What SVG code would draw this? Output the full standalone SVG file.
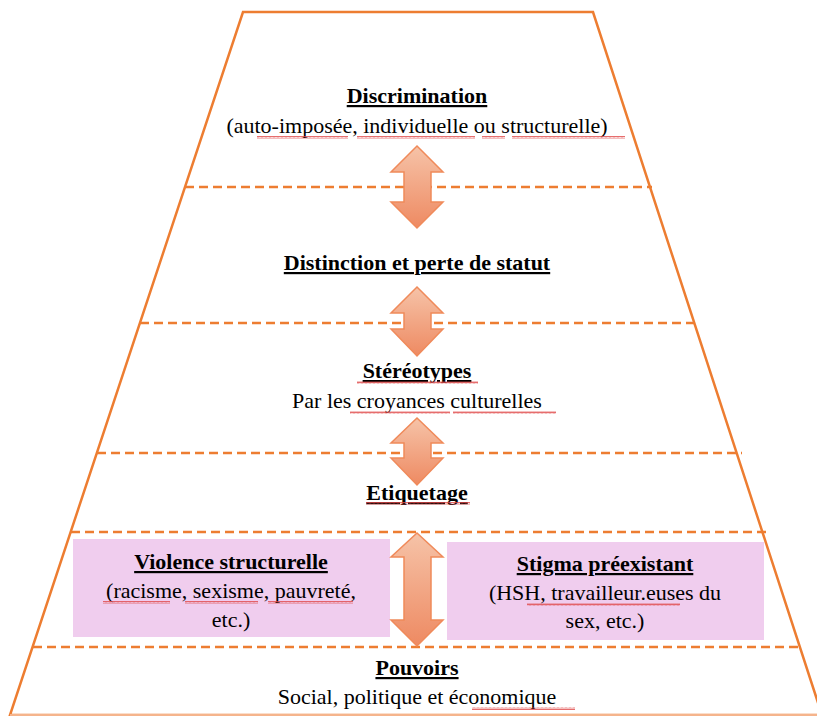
<svg xmlns="http://www.w3.org/2000/svg" width="817" height="716" viewBox="0 0 817 716">
<defs>
<linearGradient id="ag" x1="0" y1="0" x2="0" y2="1">
<stop offset="0" stop-color="#F6C3A8"/>
<stop offset="1" stop-color="#EE8A62"/>
</linearGradient>
<pattern id="wavy" width="4" height="3" patternUnits="userSpaceOnUse">
<path d="M0,2.5 L1,0.5 L2,2.5 L3,0.5 L4,2.5" fill="none" stroke="#E04848" stroke-width="0.8"/>
</pattern>
</defs>
<rect width="817" height="716" fill="#fff"/>
<g id="pyramid" fill="none" stroke="#ED7D31" stroke-width="2.5">
<polygon points="243,12 593,12 822,715 10,715"/>
<line x1="10" y1="715" x2="817" y2="715" stroke="#F5B48C" stroke-width="2"/>
</g>
<g id="levels" fill="none" stroke="#ED7D31" stroke-width="2.5" stroke-dasharray="9 5">
<line x1="185" y1="187" x2="652" y2="187"/>
<line x1="140" y1="323" x2="696" y2="323"/>
<line x1="97" y1="453" x2="742" y2="453"/>
<line x1="71" y1="532" x2="767" y2="532"/>
<line x1="33" y1="647" x2="802" y2="647"/>
</g>
<g id="node-violence">
<rect x="73" y="539" width="317" height="98" fill="#F0CDEE"/>
<text x="231" y="569" font-family="'Liberation Serif'" font-size="22" font-weight="bold" text-decoration="underline" text-anchor="middle">Violence structurelle</text>
<text x="231" y="598" font-family="'Liberation Serif'" font-size="22" text-anchor="middle">(racisme, sexisme, pauvreté,</text>
<text x="231" y="627" font-family="'Liberation Serif'" font-size="22" text-anchor="middle">etc.)</text>
<rect x="103" y="601" width="67" height="3" fill="url(#wavy)"/>
<rect x="185" y="601" width="73" height="3" fill="url(#wavy)"/>
<rect x="268" y="601" width="85" height="3" fill="url(#wavy)"/>
</g>
<g id="node-stigma">
<rect x="447" y="542" width="317" height="98" fill="#F0CDEE"/>
<text x="605" y="571" font-family="'Liberation Serif'" font-size="22" font-weight="bold" text-decoration="underline" text-anchor="middle">Stigma préexistant</text>
<text x="605" y="600" font-family="'Liberation Serif'" font-size="22" text-anchor="middle">(HSH, travailleur.euses du</text>
<text x="605" y="628" font-family="'Liberation Serif'" font-size="22" text-anchor="middle">sex, etc.)</text>
<rect x="527" y="603" width="153" height="3" fill="url(#wavy)"/>
</g>
<g id="node-discrimination">
<text x="417" y="103" font-family="'Liberation Serif'" font-size="22" font-weight="bold" text-decoration="underline" text-anchor="middle">Discrimination</text>
<text x="417" y="133" font-family="'Liberation Serif'" font-size="22" text-anchor="middle">(auto-imposée, individuelle ou structurelle)</text>
<rect x="257" y="136" width="91" height="3" fill="url(#wavy)"/>
<rect x="357" y="136" width="118" height="3" fill="url(#wavy)"/>
<rect x="482" y="136" width="23" height="3" fill="url(#wavy)"/>
<rect x="512" y="136" width="113" height="3" fill="url(#wavy)"/>
</g>
<g id="node-distinction">
<text x="417" y="270" font-family="'Liberation Serif'" font-size="22" font-weight="bold" text-decoration="underline" text-anchor="middle">Distinction et perte de statut</text>
</g>
<g id="node-stereotypes">
<text x="417" y="378" font-family="'Liberation Serif'" font-size="22" font-weight="bold" text-decoration="underline" text-anchor="middle">Stéréotypes</text>
<text x="417" y="408" font-family="'Liberation Serif'" font-size="22" text-anchor="middle">Par les croyances culturelles</text>
<rect x="357" y="381" width="121" height="3" fill="url(#wavy)"/>
<rect x="350" y="411" width="100" height="3" fill="url(#wavy)"/>
<rect x="453" y="411" width="103" height="3" fill="url(#wavy)"/>
</g>
<g id="node-etiquetage">
<text x="417" y="500" font-family="'Liberation Serif'" font-size="22" font-weight="bold" text-decoration="underline" text-anchor="middle">Etiquetage</text>
<rect x="366" y="502" width="104" height="3" fill="url(#wavy)"/>
</g>
<g id="node-pouvoirs">
<text x="417" y="675" font-family="'Liberation Serif'" font-size="22" font-weight="bold" text-decoration="underline" text-anchor="middle">Pouvoirs</text>
<text x="417" y="704" font-family="'Liberation Serif'" font-size="22" text-anchor="middle">Social, politique et économique</text>
<rect x="472" y="707" width="103" height="3" fill="url(#wavy)"/>
</g>
<g id="connectors" fill="url(#ag)" stroke="#F08A5A" stroke-width="1.5">
<path d="M417,146 L443,172 L431,172 L431,202 L443,202 L417,228 L391,202 L404,202 L404,172 L391,172 Z"/>
<path d="M417,287 L443,313 L431,313 L431,329 L443,329 L417,356 L391,329 L404,329 L404,313 L391,313 Z"/>
<path d="M417,418 L443,443 L431,443 L431,458 L443,458 L417,485 L391,458 L404,458 L404,443 L391,443 Z"/>
<path d="M417,533 L443,557 L431,557 L431,620 L443,620 L417,646 L391,620 L404,620 L404,557 L391,557 Z"/>
</g>
</svg>
